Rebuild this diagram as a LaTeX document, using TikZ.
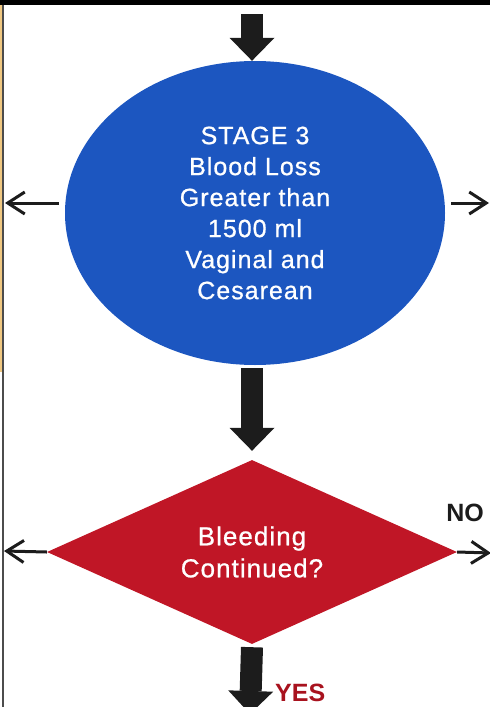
\documentclass[tikz,border=0pt]{standalone}
\usepackage{fontspec}
\setmainfont{Liberation Sans}
\newfontfamily\boxfont[LetterSpace=4,FakeBold=0.8]{Liberation Sans}
\usetikzlibrary{shapes.geometric,arrows.meta}
\definecolor{stageblue}{RGB}{28,86,192}
\definecolor{bleedred}{RGB}{192,22,38}
\definecolor{yesred}{RGB}{168,18,30}
\definecolor{arrowblack}{RGB}{28,28,28}
\definecolor{scanedge}{RGB}{240,200,130}
\tikzstyle{bigarrow}=[line width=22pt, arrowblack, -{Triangle[width=45pt,length=23pt,line width=0pt]}]
\tikzstyle{thinarrow}=[line width=3pt, arrowblack, -{Straight Barb[length=17pt,width=22pt,line width=3pt]}]
\tikzstyle{answer}=[font=\bfseries\fontsize{25}{30}\selectfont, inner sep=0pt]
\begin{document}
\begin{tikzpicture}[x=1pt, y=-1pt]
        \useasboundingbox (0,0) rectangle (490,707);
        \fill[black] (0,0) rectangle (490,5);
        \fill[scanedge] (0,5) rectangle (2,372);
        \draw[gray!60!black, line width=1.2pt] (3,5) -- (3,707);
        \node[ellipse, fill=stageblue, minimum width=380pt, minimum height=304pt, text=white, align=center, font=\boxfont\fontsize{25}{31}\selectfont] (stage) at (255,213) {STAGE 3\\Blood Loss\\Greater than\\1500 ml\\Vaginal and\\Cesarean};
        \node[diamond, fill=bleedred, minimum width=410pt, minimum height=184pt, aspect=2.2, inner sep=0pt, text=white, align=center, font=\boxfont\fontsize{26}{32}\selectfont] (bleed) at (252,552) {Bleeding\\Continued?};
        \coordinate (topin) at (252,14);
        \draw[bigarrow] (topin) -- (topin |- stage.north);
        \draw[bigarrow] (bleed.north |- stage.south) ++(0,3) -- ([yshift=9pt]bleed.north);
        \coordinate (yesout) at (250,714);
        \draw[bigarrow] ([yshift=-3pt]bleed.south) -- (yesout);
        \coordinate (stageleft) at (5,203);
        \coordinate (stageright) at (489,203);
        \draw[thinarrow] ([shift={(-6,-10)}]stage.west) -- (stageleft);
        \draw[thinarrow] ([shift={(6,-10)}]stage.east) -- (stageright);
        \coordinate (bleedleft) at (4,551);
        \coordinate (bleedright) at (491,553);
        \draw[thinarrow] (bleed.west) -- (bleedleft);
        \draw[thinarrow] (bleed.east) -- (bleedright);
        \node[answer, text=arrowblack] (no) at (465,513) {NO};
        \node[answer, text=yesred, anchor=west] (yes) at (275,693) {YES};
\end{tikzpicture}
\end{document}
